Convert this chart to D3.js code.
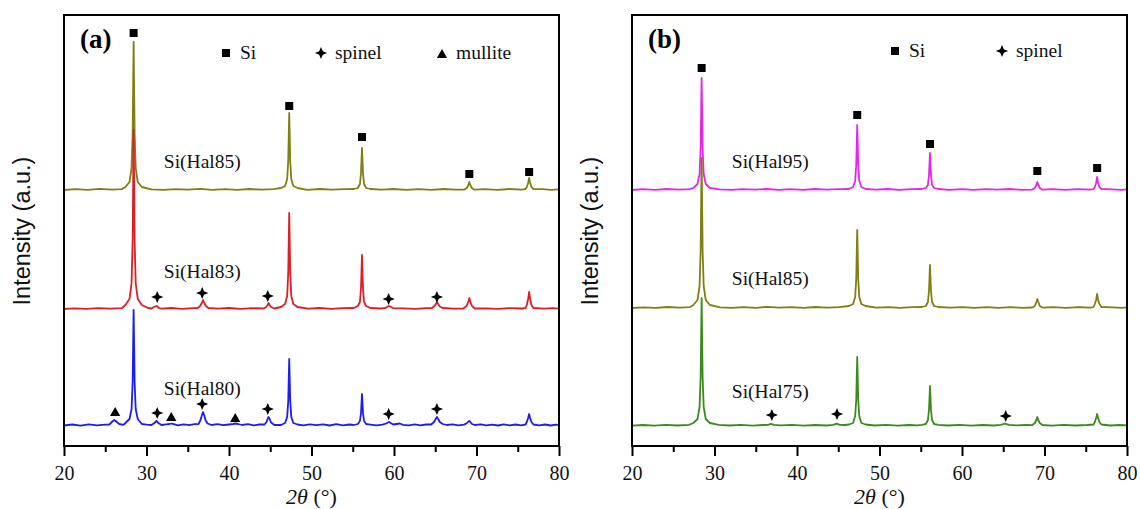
<!DOCTYPE html>
<html>
<head>
<meta charset="utf-8">
<script src="https://cdn.jsdelivr.net/npm/d3@7"></script>
<style>
  html, body { margin: 0; padding: 0; background: #fff; }
  svg { display: block; }
</style>
</head>
<body>
<svg id="chart" width="1140" height="509"></svg>
<script>
// ---------------- DATA (2θ in degrees, intensity in a.u. above each pattern's own baseline) ----------------
const majorTicks = [20, 30, 40, 50, 60, 70, 80];
const minorTicks = [25, 35, 45, 55, 65, 75];

const namesA = ["Si(Hal85)", "Si(Hal83)", "Si(Hal80)"];
const namesB = ["Si(Hal95)", "Si(Hal85)", "Si(Hal75)"];
const offsetsA = [256, 137, 20];
const offsetsB = [256, 138, 20];

const hal85a = [
[20,0],[21.4,0.8],[22.9,0.2],[24.3,1.1],[25.8,0.4],[27,0.9],
[27.44,3],[27.94,8],[28.19,22],[28.32,56],[28.39,111],[28.44,148],[28.49,111],[28.56,56],[28.69,22],[28.94,8],[29.44,3],
[30.6,0.7],[32,0.1],[33.5,0.9],[35,0.3],[36.5,1.1],[38,0.2],[39.5,0.8],[41,0.1],[42.5,1],[44,0.3],[45.4,0.9],
[46.3,2],[46.8,4],[47.05,11],[47.18,29],[47.25,58],[47.30,77],[47.35,58],[47.42,29],[47.55,11],[47.8,4],[48.3,2],
[49.5,0.2],[51,1],[52.5,0.3],[54,0.9],
[55.12,1],[55.62,2],[55.87,6],[56.0,17],[56.07,32],[56.12,42],[56.17,32],[56.24,17],[56.37,6],[56.62,2],[57.12,1],
[58.5,0.3],[60,1],[61.5,0.1],[63,0.8],[64.5,0.2],[66,1],[67.4,0.3],[68.5,0.4],
[68.83,2],[69.01,5],[69.13,8],[69.25,5],[69.43,2],[69.75,0.3],
[71,0.9],[72.5,0.1],[74,1],[75.5,0.3],
[75.95,1],[76.1,3],[76.26,7],[76.38,12],[76.5,7],[76.66,3],[76.9,1],
[78,0.8],[79,0.2],[80,0.6]];

const hal83a = [
[20,0],[21.2,0.6],[22.7,0.1],[24.1,0.9],[25.6,0.3],[27,0.8],
[27.44,4],[27.94,10],[28.19,26],[28.32,68],[28.39,134],[28.44,179],[28.49,134],[28.56,68],[28.69,26],[28.94,10],[29.44,4],
[30.2,1],[30.6,0.5],[30.9,2],[31.08,2.5],[31.2,3],[31.32,2.5],[31.5,1],[31.8,0.4],
[33,1],[34.3,0.2],[35.6,0.9],[36.2,1],[36.5,3],[36.7,6],[36.85,9],[37.0,6],[37.2,3],[37.5,1],
[38.7,0.3],[40,1],[41.4,0.2],[42.8,0.8],[44.2,0.5],[44.5,2],[44.68,4],[44.8,6],[44.92,4],[45.1,2],[45.5,0.5],
[46.3,2],[46.8,5],[47.05,13],[47.18,36],[47.25,72],[47.30,96],[47.35,72],[47.42,36],[47.55,13],[47.8,5],[48.3,2],
[49.6,0.4],[51,1],[52.4,0.2],[53.8,0.9],
[55.12,1],[55.62,3],[55.87,7],[56.0,21],[56.07,40],[56.12,54],[56.17,40],[56.24,21],[56.37,7],[56.62,3],[57.12,1],
[58.3,0.5],[58.9,0.8],[59.15,2],[59.4,3],[59.65,2],[59.9,0.8],
[61.2,0.6],[62.6,0.1],[63.9,0.9],[64.6,1],[64.9,3],[65.08,5],[65.2,7],[65.35,5],[65.55,2.5],[65.9,1],
[67.2,0.3],[68.4,0.5],[68.8,3],[69.0,7],[69.13,11],[69.26,7],[69.46,3],[69.8,0.5],
[71.2,0.7],[72.6,0.2],[74,0.9],[75.5,0.5],
[75.95,1],[76.1,4],[76.26,10],[76.38,17],[76.5,10],[76.66,4],[76.9,1],
[78.2,0.4],[79.2,0.9],[80,0.3]];

const hal80a = [
[20,0.5],[21,1.5],[22,0.3],[23,1.6],[24,0.6],[25,1.4],[25.5,1.5],[25.8,4],[26.1,6],[26.4,4],[26.7,2],[27.2,1.2],
[27.44,3],[27.94,7],[28.19,17],[28.32,44],[28.39,87],[28.44,116],[28.49,87],[28.56,44],[28.69,17],[28.94,7],[29.44,2],
[30,1.4],[30.6,1],[30.95,3],[31.2,5],[31.45,3],[31.8,1],
[32.4,1.7],[32.8,2],[33.0,2.5],[33.3,1.8],[33.8,0.7],[34.5,1.6],[35.2,0.9],[35.8,1.8],
[36.3,2],[36.55,6],[36.72,11],[36.85,14],[36.98,11],[37.15,6],[37.4,2.5],[37.9,1],
[38.6,1.9],[39.3,0.8],[40.0,1.5],[40.5,2],[40.8,2.5],[41.1,2],[41.6,1],[42.3,1.8],[43,0.6],[43.7,1.5],
[44.3,1.5],[44.55,4],[44.68,7],[44.8,9],[44.92,7],[45.1,3.5],[45.5,1],
[46.3,1],[46.8,3],[47.05,9],[47.18,25],[47.25,50],[47.30,67],[47.35,50],[47.42,25],[47.55,9],[47.8,3],[48.3,1.5],
[49,0.6],[49.8,1.7],[50.6,0.8],[51.4,1.6],[52.2,0.5],[53,1.8],[53.8,0.7],[54.6,1.5],
[55.12,1],[55.62,2],[55.87,5],[56.0,13],[56.07,24],[56.12,32],[56.17,24],[56.24,13],[56.37,5],[56.62,2],[57.12,1.4],
[57.9,0.6],[58.6,1.3],[59.05,2.5],[59.25,3.5],[59.4,4],[59.6,3],[59.9,1.5],[60.3,2],[60.7,2.5],[61.1,1.2],
[61.8,0.7],[62.5,1.7],[63.2,0.6],[63.9,1.5],[64.5,1.5],[64.85,4],[65.05,7],[65.2,9],[65.35,7],[65.55,4],[65.9,2],[66.4,1],
[67.1,1.6],[67.8,0.6],[68.5,1.4],[68.85,3],[69.0,4.5],[69.13,5],[69.26,4],[69.45,2],[69.8,1],
[70.5,1.7],[71.2,0.6],[71.9,1.4],[72.6,0.5],[73.3,1.6],[74,0.7],[74.7,1.5],[75.4,0.6],
[75.95,1.5],[76.1,4],[76.26,8],[76.38,12],[76.5,8],[76.66,4],[76.9,1.5],
[77.6,0.6],[78.3,1.5],[79,0.5],[79.6,1.4],[80,0.8]];

const hal95b = [
[20,0],[21.3,0.8],[22.8,0.2],[24.2,1],[25.7,0.3],[27,0.9],
[27.44,2],[27.94,6],[28.19,16],[28.32,42],[28.39,84],[28.44,112],[28.49,84],[28.56,42],[28.69,16],[28.94,6],[29.44,2],
[30.6,0.7],[32,0.1],[33.4,0.9],[34.9,0.3],[36.3,1],[37.8,0.2],[39.2,0.8],[40.7,0.1],[42.1,1],[43.6,0.4],[45,0.9],
[46.3,1],[46.8,3],[47.05,9],[47.18,25],[47.25,49],[47.30,65],[47.35,49],[47.42,25],[47.55,9],[47.8,3],[48.3,1],
[49.5,0.3],[51,1],[52.4,0.2],[53.9,0.8],
[55.12,1],[55.62,2],[55.87,5],[56.0,15],[56.07,28],[56.12,37],[56.17,28],[56.24,15],[56.37,5],[56.62,2],[57.12,1],
[58.5,0.2],[60,0.9],[61.4,0.1],[62.9,0.8],[64.3,0.3],[65.8,1],[67.2,0.2],[68.5,0.4],
[68.83,2],[69.01,5],[69.13,8],[69.25,5],[69.43,2],[69.75,0.3],
[71,0.9],[72.5,0.2],[74,0.8],[75.6,0.3],
[75.95,1],[76.1,3],[76.26,7],[76.38,13],[76.5,7],[76.66,3],[76.9,1],
[78.2,0.7],[79.3,0.1],[80,0.6]];

const hal85b = [
[20,0],[21.4,0.7],[22.9,0.2],[24.3,1],[25.8,0.3],[27,0.8],
[27.44,3],[27.94,8],[28.19,22],[28.32,57],[28.39,113],[28.44,150],[28.49,113],[28.56,57],[28.69,22],[28.94,8],[29.44,3],
[30.7,0.6],[32.1,0.2],[33.5,0.9],[35,0.2],[36.4,1.2],[37.8,0.3],[39.3,0.8],[40.8,0.2],[42.2,1],[43.7,0.3],[45.1,0.9],
[46.3,2],[46.8,4],[47.05,11],[47.18,29],[47.25,59],[47.30,78],[47.35,59],[47.42,29],[47.55,11],[47.8,4],[48.3,2],
[49.6,0.3],[51.1,0.9],[52.5,0.1],[54,0.8],
[55.12,1],[55.62,2],[55.87,6],[56.0,17],[56.07,32],[56.12,43],[56.17,32],[56.24,17],[56.37,6],[56.62,2],[57.12,1],
[58.6,0.3],[60.1,0.9],[61.5,0.2],[63,0.8],[64.4,0.2],[65.9,0.9],[67.3,0.1],[68.5,0.5],
[68.83,2],[69.01,6],[69.13,9],[69.25,6],[69.43,2],[69.75,0.4],
[71.1,0.8],[72.6,0.1],[74.1,0.9],[75.6,0.3],
[75.95,1],[76.1,4],[76.26,8],[76.38,14],[76.5,8],[76.66,4],[76.9,1],
[78.3,0.6],[79.4,0.2],[80,0.7]];

const hal75b = [
[20,0.3],[21.3,1],[22.7,0.4],[24.1,1.1],[25.5,0.5],[26.9,1.2],
[27.44,3],[27.94,7],[28.19,19],[28.32,49],[28.39,96],[28.44,128],[28.49,96],[28.56,49],[28.69,19],[28.94,7],[29.44,3],
[30.5,1.2],[31.8,0.5],[33.2,1.1],[34.6,0.4],[35.9,1],[36.5,1.2],[36.85,2.2],[37.2,1.2],[38,0.6],[39.4,1.1],[40.8,0.4],[42.2,1],[43.6,0.5],[44.4,1.1],[44.8,2.3],[45.2,1.2],[45.8,1],
[46.3,1.5],[46.8,3],[47.05,10],[47.18,26],[47.25,52],[47.30,69],[47.35,52],[47.42,26],[47.55,10],[47.8,3],[48.3,1.5],
[49.4,0.5],[50.8,1.1],[52.2,0.4],[53.6,1],[54.6,0.6],
[55.12,1.2],[55.62,2],[55.87,6],[56.0,16],[56.07,30],[56.12,40],[56.17,30],[56.24,16],[56.37,6],[56.62,2],[57.12,1.2],
[58.3,0.5],[59.7,1.1],[61.1,0.4],[62.5,1],[63.9,0.5],[64.7,1.2],[65.2,2.3],[65.7,1.2],[66.6,0.6],[67.8,1],[68.5,0.8],
[68.83,3],[69.01,6],[69.13,9],[69.25,6],[69.43,3],[69.75,1],
[70.9,0.4],[72.3,1.1],[73.7,0.5],[75.2,1],
[75.95,1.5],[76.1,4],[76.26,8],[76.38,12],[76.5,8],[76.66,4],[76.9,1.5],
[78,0.5],[79.1,1],[80,0.6]];

// phase markers: [2θ, absolute intensity on the panel scale, phase]
const markersA = [
[28.44,413,"Si"],[47.3,340,"Si"],[56.12,309,"Si"],[69.13,272,"Si"],[76.38,274,"Si"],
[31.3,149,"spinel"],[36.75,153,"spinel"],[44.7,150,"spinel"],[59.35,147,"spinel"],[65.2,149,"spinel"],
[26.2,33,"mullite"],[31.3,33,"spinel"],[33.0,28,"mullite"],[36.75,42,"spinel"],[40.75,27,"mullite"],[44.7,37,"spinel"],[59.35,32,"spinel"],[65.2,37,"spinel"]
];
const markersB = [
[28.44,378,"Si"],[47.3,331,"Si"],[56.12,302,"Si"],[69.13,275,"Si"],[76.38,278,"Si"],
[36.95,31,"spinel"],[44.85,32,"spinel"],[65.3,30,"spinel"]
];
const legendA = ["Si", "spinel", "mullite"];
const legendB = ["Si", "spinel"];

// ---------------- DRAWING ----------------
const SERIF = '"Liberation Serif", "Times New Roman", Times, serif';
const SANS = '"Liberation Sans", Arial, Helvetica, sans-serif';
const colorsA = ["#7f7f14", "#dc1f26", "#1c1cf5"];
const colorsB = ["#e526ea", "#7f7f14", "#3c8a1e"];

const svg = d3.select("#chart");
svg.append("rect").attr("width", 1140).attr("height", 509).attr("fill", "#fff");

const star4 = {
  draw(ctx, size) {
    const R = Math.sqrt(size) / 2, r = R * 0.42;
    for (let i = 0; i < 8; i++) {
      const a = i * Math.PI / 4 - Math.PI / 2;
      const rr = i % 2 === 0 ? R : r;
      const px = rr * Math.cos(a), py = rr * Math.sin(a);
      if (i === 0) ctx.moveTo(px, py); else ctx.lineTo(px, py);
    }
    ctx.closePath();
  }
};
const symbolFor = {
  "Si": d3.symbol().type(d3.symbolSquare).size(64)(),
  "spinel": d3.symbol().type(star4).size(150)(),
  "mullite": d3.symbol().type(d3.symbolTriangle).size(46)()
};

function txt(sel, family, size) {
  return sel.style("font-family", family).style("font-size", size + "px");
}

function panel(cfg) {
  const g = svg.append("g");
  const x = d3.scaleLinear().domain([20, 80]).range([cfg.left, cfg.right]);
  const y = d3.scaleLinear().domain([0, 431]).range([446, 15]);

  const line = d3.line().x(d => x(d[0])).y(d => y(d[1]));
  cfg.series.forEach((s, i) => {
    const pts = s.map(d => [d[0], d[1] + cfg.offsets[i]]).sort((a, b) => a[0] - b[0]);
    g.append("path").datum(pts)
      .attr("d", line).attr("fill", "none")
      .attr("stroke", cfg.colors[i]).attr("stroke-width", 1.8)
      .attr("stroke-linejoin", "round");
  });

  // sample labels
  cfg.names.forEach((n, i) => {
    txt(g.append("text"), SERIF, 19.5)
      .attr("x", x(32.1)).attr("y", y(cfg.offsets[i]) + cfg.labelDy[i])
      .attr("fill", "#111").text(n);
  });

  // markers
  g.selectAll("path.mk").data(cfg.markers).join("path").attr("class", "mk")
    .attr("d", d => symbolFor[d[2]])
    .attr("transform", d => `translate(${x(d[0])},${y(d[1])})`)
    .attr("fill", "#000");

  // frame
  g.append("rect").attr("x", cfg.left).attr("y", 15)
    .attr("width", cfg.right - cfg.left).attr("height", 431)
    .attr("fill", "none").attr("stroke", "#000").attr("stroke-width", 2);

  // axes
  const ax = g.append("g").attr("transform", "translate(0,446)")
    .call(d3.axisBottom(x).tickValues(majorTicks).tickSize(10).tickPadding(10).tickFormat(d3.format("d")));
  ax.select(".domain").remove();
  ax.selectAll("line").attr("stroke", "#000").attr("stroke-width", 2);
  txt(ax.selectAll("text"), SERIF, 20).attr("fill", "#111");
  const axm = g.append("g").attr("transform", "translate(0,446)")
    .call(d3.axisBottom(x).tickValues(minorTicks).tickSize(6).tickFormat(""));
  axm.select(".domain").remove();
  axm.selectAll("line").attr("stroke", "#000").attr("stroke-width", 2);

  // x title
  const xt = txt(g.append("text"), SERIF, 22)
    .attr("x", (cfg.left + cfg.right) / 2).attr("y", 504)
    .attr("text-anchor", "middle").attr("fill", "#111");
  xt.append("tspan").style("font-style", "italic").text("2θ");
  xt.append("tspan").text(" (°)");

  // y title
  txt(g.append("text"), SANS, 23.5)
    .attr("transform", `translate(${cfg.left - 34},231) rotate(-90)`)
    .attr("text-anchor", "middle").attr("fill", "#111").text("Intensity (a.u.)");

  // panel letter
  txt(g.append("text"), SERIF, 27)
    .attr("x", cfg.left + 16).attr("y", 48)
    .style("font-weight", "bold").attr("fill", "#000")
    .text(cfg.letter);

  // legend
  cfg.legend.forEach((name, i) => {
    const lx = cfg.legendX[i];
    g.append("path").attr("d", symbolFor[name])
      .attr("transform", `translate(${lx},${cfg.legendY + (name === "mullite" ? 2 : 0)})`)
      .attr("fill", "#000");
    txt(g.append("text"), SERIF, 19.5)
      .attr("x", lx + 14).attr("y", cfg.legendY + 6)
      .attr("fill", "#111").text(name);
  });
}

panel({
  left: 64, right: 559, letter: "(a)",
  series: [hal85a, hal83a, hal80a], offsets: offsetsA, colors: colorsA,
  names: namesA, labelDy: [-22, -31, -31],
  markers: markersA, legend: legendA, legendX: [226, 321, 442], legendY: 53
});
panel({
  left: 632, right: 1127, letter: "(b)",
  series: [hal95b, hal85b, hal75b], offsets: offsetsB, colors: colorsB,
  names: namesB, labelDy: [-22, -23, -28],
  markers: markersB, legend: legendB, legendX: [895, 1002], legendY: 51
});
</script>
</body>
</html>
